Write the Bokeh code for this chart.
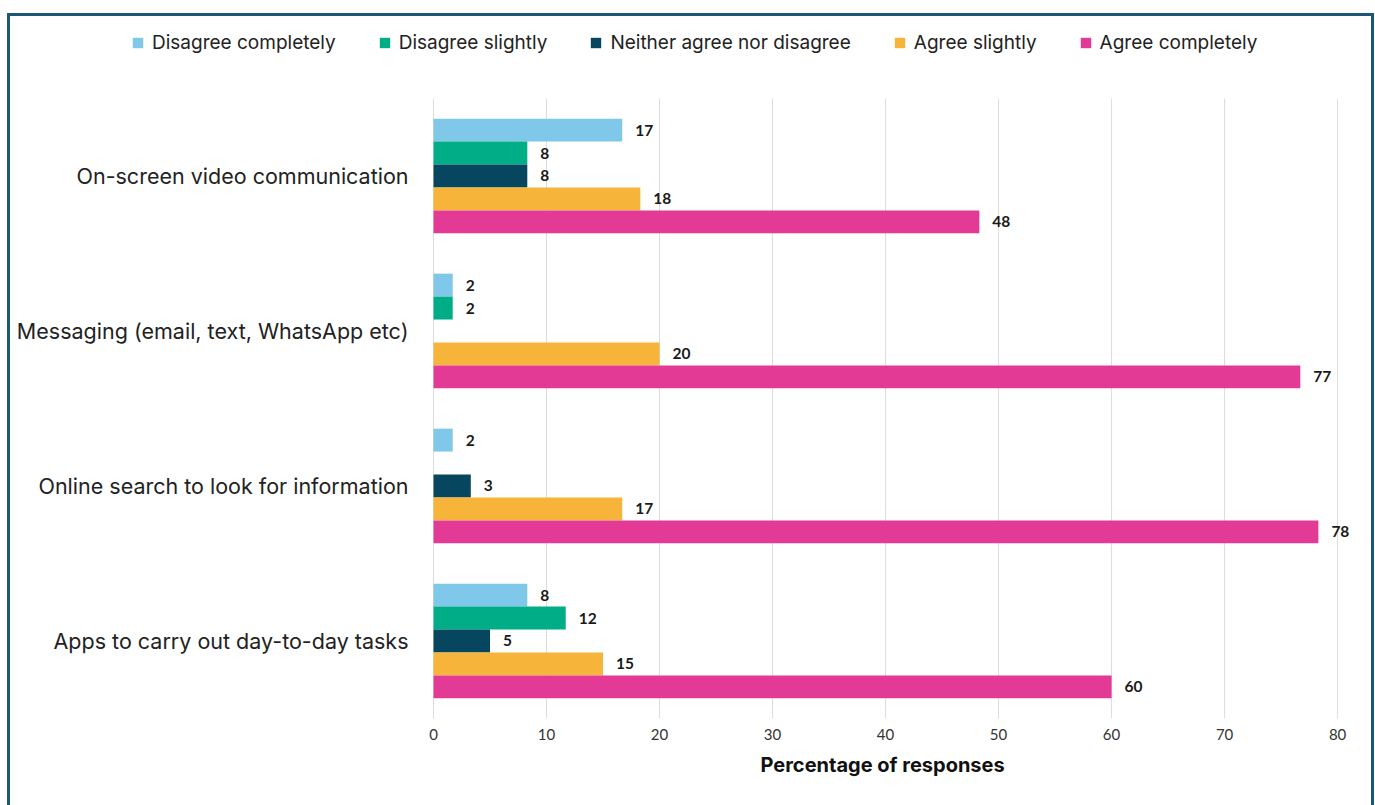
from bokeh.plotting import figure
from bokeh.models import ColumnDataSource, Range1d, Legend, LegendItem, Title
from bokeh.transform import dodge
from bokeh.core.properties import value
from bokeh.embed import file_html
from bokeh.resources import INLINE

categories = [
    "On-screen video communication",
    "Messaging (email, text, WhatsApp etc)",
    "Online search to look for information",
    "Apps to carry out day-to-day tasks",
]
series = ["Disagree completely", "Disagree slightly", "Neither agree nor disagree",
          "Agree slightly", "Agree completely"]
disagree_completely = [16.7, 1.7, 1.7, 8.3]
disagree_slightly = [8.3, 1.7, 0.0, 11.7]
neither = [8.3, 0.0, 3.3, 5.0]
agree_slightly = [18.3, 20.0, 16.7, 15.0]
agree_completely = [48.3, 76.7, 78.3, 60.0]
colors = ["#7fc8e9", "#00ad86", "#07465f", "#f7b43a", "#e33a96"]
x_ticks = [0, 10, 20, 30, 40, 50, 60, 70, 80]

all_values = [disagree_completely, disagree_slightly, neither, agree_slightly, agree_completely]

FONT = "Inter"
NUMF = "Lato"

n = len(categories)
ypos = [n - i - 0.5 for i in range(n)]

p = figure(
    frame_width=1361, frame_height=702,
    x_range=Range1d(-37.43, 83.0), y_range=Range1d(0, 4.529),
    y_axis_location=None,
    output_backend="svg", toolbar_location=None,
    min_border_left=0, min_border_right=0, min_border_top=0, min_border_bottom=100,
    margin=(13, 0, 0, 7),
    styles={"border": "3px solid #1a5877"},
)
p.outline_line_color = None
p.background_fill_color = "white"
p.border_fill_color = "white"
p.grid.visible = False

# vertical grid lines at the tick values
p.segment(x0=x_ticks, x1=x_ticks, y0=[0] * len(x_ticks), y1=[n] * len(x_ticks),
          line_color="#dcdcdc", line_width=1)

bar_h = 0.148
offsets = [2 * bar_h, bar_h, 0.0, -bar_h, -2 * bar_h]

items = []
for name, vals, col, off in zip(series, all_values, colors, offsets):
    src = ColumnDataSource(dict(yc=ypos, v=vals,
                                lbl=[str(int(round(x))) if x > 0 else "" for x in vals]))
    r = p.hbar(y=dodge("yc", off), right="v", left=0, height=bar_h,
               source=src, fill_color=col, line_color=None)
    p.text(x="v", y=dodge("yc", off), text="lbl", source=src,
           x_offset=13, text_baseline="middle", text_align="left",
           text_font=value(NUMF), text_font_style="bold", text_font_size="15.5px",
           text_color="#1a1a1a")
    items.append(LegendItem(label=name, renderers=[r]))

# category labels
csrc = ColumnDataSource(dict(yc=ypos, name=categories, x0=[0] * n))
p.text(x="x0", y="yc", text="name", source=csrc, x_offset=-25,
       text_align="right", text_baseline="middle",
       text_font=value(FONT), text_font_size="21.5px", text_color="#222222")

legend = Legend(items=items, orientation="horizontal", location=(121, 664))
legend.label_text_font = FONT
legend.label_text_font_size = "19px"
legend.label_text_color = "#222222"
legend.glyph_width = 13
legend.glyph_height = 13
legend.label_standoff = 8
legend.spacing = 42
legend.border_line_color = None
legend.background_fill_alpha = 0
legend.margin = 0
legend.padding = 0
p.add_layout(legend, "center")

p.xaxis.ticker = x_ticks
p.xaxis.axis_line_color = None
p.xaxis.major_tick_line_color = None
p.xaxis.minor_tick_line_color = None
p.xaxis.major_label_text_font = NUMF
p.xaxis.major_label_text_font_size = "15px"
p.xaxis.major_label_text_color = "#333333"
p.xaxis.major_label_standoff = 4

xlabel = Title(text="Percentage of responses", align="left", offset=750,
               text_font=FONT, text_font_style="bold", text_font_size="20px",
               text_color="#111111", standoff=16)
p.add_layout(xlabel, "below")

open("out.html", "w").write(file_html(p, INLINE))
